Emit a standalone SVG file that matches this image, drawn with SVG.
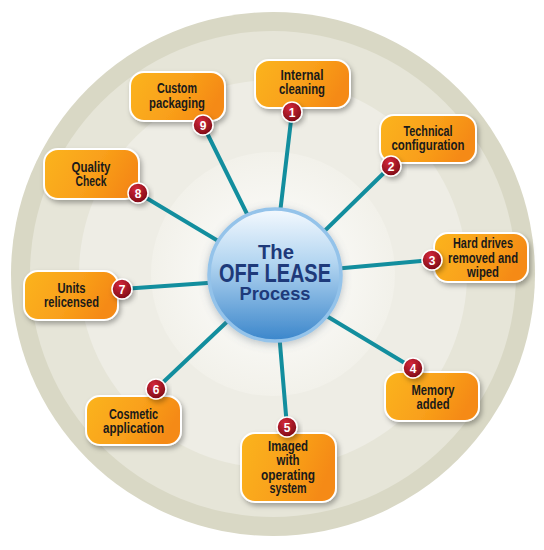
<svg xmlns="http://www.w3.org/2000/svg" width="544" height="550" viewBox="0 0 544 550">
<defs>
<linearGradient id="boxg" x1="0" y1="0" x2="1" y2="0.3">
<stop offset="0" stop-color="#fbb41d"/>
<stop offset="0.6" stop-color="#f9a01a"/>
<stop offset="1" stop-color="#f58a12"/>
</linearGradient>
<radialGradient id="badg" cx="0.4" cy="0.3" r="0.75">
<stop offset="0" stop-color="#d4283a"/>
<stop offset="1" stop-color="#7a0a14"/>
</radialGradient>
<linearGradient id="hubg" x1="0" y1="0" x2="0" y2="1">
<stop offset="0" stop-color="#f4f9fe"/>
<stop offset="0.4" stop-color="#b4d6f1"/>
<stop offset="1" stop-color="#3b86cb"/>
</linearGradient>
<radialGradient id="bgg" cx="0.5" cy="0.5" r="0.5">
<stop offset="0" stop-color="#ffffff"/>
<stop offset="1" stop-color="#f2f1ea"/>
</radialGradient>
<filter id="sh" x="-20%" y="-20%" width="150%" height="160%">
<feDropShadow dx="2" dy="3" stdDeviation="2.5" flood-color="#000" flood-opacity="0.3"/>
</filter>
<filter id="hsh" x="-20%" y="-20%" width="140%" height="140%">
<feDropShadow dx="0" dy="2" stdDeviation="4" flood-color="#5a6a7a" flood-opacity="0.4"/>
</filter>
</defs>
<style>
.box{fill:url(#boxg);stroke:#ffffff;stroke-width:2;filter:url(#sh)}
.lbl{font-family:"Liberation Sans",Arial,sans-serif;font-weight:bold;font-size:14px;fill:#1a1a1a;text-anchor:middle}
.bad{fill:url(#badg);stroke:#ffffff;stroke-width:1.5;filter:url(#sh)}
.num{font-family:"Liberation Sans",Arial,sans-serif;font-weight:bold;font-size:12px;fill:#ffffff;text-anchor:middle}
.con line{stroke:#128e9e;stroke-width:4;stroke-linecap:round}
.hub{font-family:"Liberation Sans",Arial,sans-serif;font-weight:bold;fill:#1e3a7a;text-anchor:middle}
</style>
<rect width="544" height="550" fill="#ffffff"/>
<g id="background">
<circle cx="273" cy="274" r="262" fill="#d9d8c5"/>
<circle cx="273" cy="274" r="243" fill="#e6e5d8"/>
<circle cx="273" cy="274" r="194" fill="#eeede5"/>
<circle cx="273" cy="274" r="122" fill="url(#bgg)"/>
</g>
<g id="connectors" class="con">
<line x1="292" y1="112" x2="278" y2="230"/>
<line x1="391" y1="166" x2="300" y2="255"/>
<line x1="432" y1="260" x2="300" y2="272"/>
<line x1="413" y1="368" x2="300" y2="300"/>
<line x1="287" y1="427" x2="278" y2="320"/>
<line x1="156" y1="389" x2="250" y2="300"/>
<line x1="122" y1="289" x2="250" y2="280"/>
<line x1="138" y1="193" x2="250" y2="260"/>
<line x1="203" y1="125" x2="255" y2="230"/>
</g>
<g id="hub">
<circle cx="275" cy="275" r="66" fill="url(#hubg)" stroke="#94c3ea" stroke-width="3.5" filter="url(#hsh)"/>
<text class="hub" x="276" y="259" font-size="21" textLength="36" lengthAdjust="spacingAndGlyphs">The</text>
<text class="hub" x="275" y="281.5" font-size="25" textLength="112" lengthAdjust="spacingAndGlyphs">OFF LEASE</text>
<text class="hub" x="275" y="300" font-size="19" textLength="71" lengthAdjust="spacingAndGlyphs">Process</text>
</g>
<g id="node1">
<rect class="box" x="255" y="60" width="95" height="48" rx="14"/>
<text class="lbl" x="302" y="80" textLength="43" lengthAdjust="spacingAndGlyphs">Internal</text>
<text class="lbl" x="302" y="94" textLength="46" lengthAdjust="spacingAndGlyphs">cleaning</text>
<circle class="bad" cx="292" cy="112" r="10"/>
<text class="num" x="292" y="116.5">1</text>
</g>
<g id="node2">
<rect class="box" x="380" y="115" width="96" height="48" rx="14"/>
<text class="lbl" x="428" y="136" textLength="49" lengthAdjust="spacingAndGlyphs">Technical</text>
<text class="lbl" x="428" y="150" textLength="73" lengthAdjust="spacingAndGlyphs">configuration</text>
<circle class="bad" cx="391" cy="166" r="10"/>
<text class="num" x="391" y="170.5">2</text>
</g>
<g id="node3">
<rect class="box" x="434" y="233" width="94" height="49" rx="14"/>
<text class="lbl" x="483" y="248" textLength="60" lengthAdjust="spacingAndGlyphs">Hard drives</text>
<text class="lbl" x="483" y="262.5" textLength="70" lengthAdjust="spacingAndGlyphs">removed and</text>
<text class="lbl" x="483" y="277" textLength="32" lengthAdjust="spacingAndGlyphs">wiped</text>
<circle class="bad" cx="432" cy="260" r="10"/>
<text class="num" x="432" y="264.5">3</text>
</g>
<g id="node4">
<rect class="box" x="385" y="372" width="94" height="49" rx="14"/>
<text class="lbl" x="433" y="395" textLength="43" lengthAdjust="spacingAndGlyphs">Memory</text>
<text class="lbl" x="433" y="409" textLength="33" lengthAdjust="spacingAndGlyphs">added</text>
<circle class="bad" cx="413" cy="368" r="10"/>
<text class="num" x="413" y="372.5">4</text>
</g>
<g id="node5">
<rect class="box" x="241" y="433" width="95" height="69" rx="14"/>
<text class="lbl" x="288" y="451" textLength="40" lengthAdjust="spacingAndGlyphs">Imaged</text>
<text class="lbl" x="288" y="465" textLength="23" lengthAdjust="spacingAndGlyphs">with</text>
<text class="lbl" x="288" y="479.5" textLength="54" lengthAdjust="spacingAndGlyphs">operating</text>
<text class="lbl" x="288" y="493" textLength="37" lengthAdjust="spacingAndGlyphs">system</text>
<circle class="bad" cx="287" cy="427" r="10"/>
<text class="num" x="287" y="431.5">5</text>
</g>
<g id="node6">
<rect class="box" x="86" y="396" width="95" height="49" rx="14"/>
<text class="lbl" x="133.5" y="419" textLength="49" lengthAdjust="spacingAndGlyphs">Cosmetic</text>
<text class="lbl" x="133.5" y="433" textLength="61" lengthAdjust="spacingAndGlyphs">application</text>
<circle class="bad" cx="156" cy="389" r="10"/>
<text class="num" x="156" y="393.5">6</text>
</g>
<g id="node7">
<rect class="box" x="24" y="271" width="94" height="49" rx="14"/>
<text class="lbl" x="71.5" y="293" textLength="28" lengthAdjust="spacingAndGlyphs">Units</text>
<text class="lbl" x="71.5" y="307" textLength="55" lengthAdjust="spacingAndGlyphs">relicensed</text>
<circle class="bad" cx="122" cy="289" r="10"/>
<text class="num" x="122" y="293.5">7</text>
</g>
<g id="node8">
<rect class="box" x="44" y="149" width="95" height="50" rx="14"/>
<text class="lbl" x="91" y="172" textLength="39" lengthAdjust="spacingAndGlyphs">Quality</text>
<text class="lbl" x="91" y="186" textLength="31" lengthAdjust="spacingAndGlyphs">Check</text>
<circle class="bad" cx="138" cy="193" r="10"/>
<text class="num" x="138" y="197.5">8</text>
</g>
<g id="node9">
<rect class="box" x="130" y="72" width="95" height="49" rx="14"/>
<text class="lbl" x="177" y="93" textLength="40" lengthAdjust="spacingAndGlyphs">Custom</text>
<text class="lbl" x="177" y="108" textLength="56" lengthAdjust="spacingAndGlyphs">packaging</text>
<circle class="bad" cx="203" cy="125" r="10"/>
<text class="num" x="203" y="129.5">9</text>
</g>
</svg>
